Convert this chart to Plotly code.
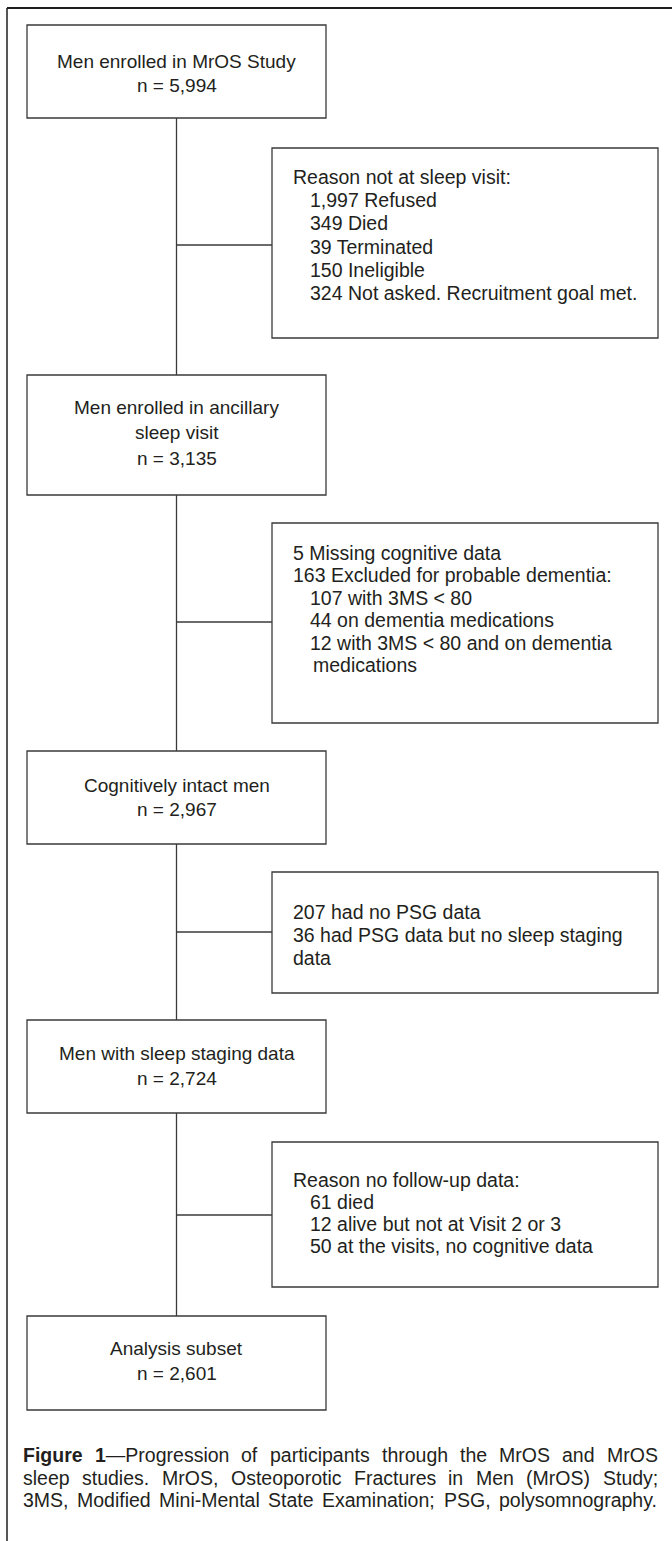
import re
import plotly.graph_objects as go

W, H = 672, 1541
FONT = "Liberation Sans, Arial, Helvetica, sans-serif"
INK = "#231f20"
LINE = "#3a3a3a"

# ---------------- content ----------------
main_texts = [
    ["Men enrolled in MrOS Study", "n = 5,994"],
    ["Men enrolled in ancillary", "sleep visit", "n = 3,135"],
    ["Cognitively intact men", "n = 2,967"],
    ["Men with sleep staging data", "n = 2,724"],
    ["Analysis subset", "n = 2,601"],
]
side_texts = [
    ["Reason not at sleep visit:", "1,997 Refused", "349 Died", "39 Terminated",
     "150 Ineligible", "324 Not asked. Recruitment goal met."],
    ["5 Missing cognitive data", "163 Excluded for probable dementia:", "107 with 3MS < 80",
     "44 on dementia medications", "12 with 3MS < 80 and on dementia", "medications"],
    ["207 had no PSG data", "36 had PSG data but no sleep staging", "data"],
    ["Reason no follow-up data:", "61 died", "12 alive but not at Visit 2 or 3",
     "50 at the visits, no cognitive data"],
]
side_indent = [
    [0, 1, 1, 1, 1, 1],
    [0, 0, 1, 1, 1, 2],
    [0, 0, 0],
    [0, 1, 1, 1],
]
caption_lines = [
    "<b>Figure</b> <b>1</b>—Progression of participants through the MrOS and MrOS",
    "sleep studies. MrOS, Osteoporotic Fractures in Men (MrOS) Study;",
    "3MS, Modified Mini-Mental State Examination; PSG, polysomnography.",
]

# ---------------- layout geometry ----------------
main_x = (27, 326)
main_y = [(25, 118), (375, 495), (751, 844), (1020, 1113), (1316, 1410)]
main_line_y = [[61, 85], [407, 432, 458], [785, 809], [1053, 1078], [1348, 1373]]
side_x = (272, 658)
side_y = [(148, 338), (523, 723), (872, 993), (1142, 1287)]
side_first = [177, 553, 912, 1180]
side_step = [23.2, 22.4, 23.0, 22.0]
side_conn = [245, 622, 932, 1215]
indent_px = [292, 309, 312]
spine_x = 176.5
FS_MAIN = 19
FS_SIDE = 19.5
CAP_FS = 19.5
cap_left, cap_right = 22, 657
cap_y = [1455, 1478, 1500]

# Arial / Liberation Sans advance widths (1/1000 em)
REG = {' ': 278, ',': 278, '-': 333, '.': 278, ':': 278, ';': 278, '(': 333, ')': 333,
       '<': 584, '=': 584, '—': 1000,
       'A': 667, 'B': 667, 'C': 722, 'D': 722, 'E': 667, 'F': 611, 'G': 778, 'H': 722,
       'I': 278, 'J': 500, 'K': 667, 'L': 556, 'M': 833, 'N': 722, 'O': 778, 'P': 667,
       'Q': 778, 'R': 722, 'S': 667, 'T': 611, 'U': 722, 'V': 667, 'W': 944, 'X': 667,
       'Y': 667, 'Z': 611,
       'a': 556, 'b': 556, 'c': 500, 'd': 556, 'e': 556, 'f': 278, 'g': 556, 'h': 556,
       'i': 222, 'j': 222, 'k': 500, 'l': 222, 'm': 833, 'n': 556, 'o': 556, 'p': 556,
       'q': 556, 'r': 333, 's': 500, 't': 278, 'u': 556, 'v': 500, 'w': 722, 'x': 500,
       'y': 500, 'z': 500}
BOLD = {'F': 611, 'i': 278, 'g': 611, 'u': 611, 'r': 389, 'e': 556, '1': 556, ' ': 278}


def word_width(tok, size):
    total = 0
    for part in re.split(r"(<b>.*?</b>)", tok):
        if part.startswith("<b>"):
            total += sum(BOLD.get(c, 611) for c in part[3:-4])
        else:
            total += sum(REG.get(c, 556) for c in part)
    return total / 1000 * size


fig = go.Figure()
shapes = []
annotations = []

# outer frame (top + left)
shapes.append(dict(type="line", x0=7, x1=W, y0=8, y1=8, line=dict(color="#1e1e1e", width=2)))
shapes.append(dict(type="line", x0=7, x1=7, y0=8, y1=H, line=dict(color="#1e1e1e", width=1.5)))

# main boxes
for (y0, y1), lines, ly in zip(main_y, main_texts, main_line_y):
    shapes.append(dict(type="rect", x0=main_x[0], x1=main_x[1], y0=y0, y1=y1,
                       line=dict(color=LINE, width=1.3), fillcolor="white"))
    for t, yy in zip(lines, ly):
        annotations.append(dict(x=(main_x[0] + main_x[1]) / 2, y=yy, text=t, showarrow=False,
                                xanchor="center", yanchor="middle",
                                font=dict(family=FONT, size=FS_MAIN, color=INK)))

# spine segments between main boxes
for (a0, a1), (b0, b1) in zip(main_y[:-1], main_y[1:]):
    shapes.append(dict(type="line", x0=spine_x, x1=spine_x, y0=a1, y1=b0,
                       line=dict(color=LINE, width=1.3)))

# side boxes
for i, ((y0, y1), lines) in enumerate(zip(side_y, side_texts)):
    shapes.append(dict(type="rect", x0=side_x[0], x1=side_x[1], y0=y0, y1=y1,
                       line=dict(color=LINE, width=1.3), fillcolor="white"))
    shapes.append(dict(type="line", x0=spine_x, x1=side_x[0], y0=side_conn[i], y1=side_conn[i],
                       line=dict(color=LINE, width=1.3)))
    for j, t in enumerate(lines):
        annotations.append(dict(x=indent_px[side_indent[i][j]], y=side_first[i] + j * side_step[i],
                                text=t.replace("<", "&lt;"), showarrow=False,
                                xanchor="left", yanchor="middle", borderpad=0,
                                font=dict(family=FONT, size=FS_SIDE, color=INK)))

# justified caption
for line, yy in zip(caption_lines, cap_y):
    words = line.split(" ")
    widths = [word_width(w, CAP_FS) for w in words]
    gap = (cap_right - cap_left - sum(widths)) / (len(words) - 1)
    x = cap_left
    for w, ww in zip(words, widths):
        annotations.append(dict(x=x, y=yy, text=w, showarrow=False, xanchor="left",
                                yanchor="middle", borderpad=0,
                                font=dict(family=FONT, size=CAP_FS, color=INK)))
        x += ww + gap

fig.update_layout(
    width=W, height=H, margin=dict(l=0, r=0, t=0, b=0),
    paper_bgcolor="white", plot_bgcolor="white",
    xaxis=dict(range=[0, W], visible=False, fixedrange=True),
    yaxis=dict(range=[H, 0], visible=False, fixedrange=True),
    shapes=shapes, annotations=annotations, showlegend=False,
)

fig.write_html("out.html", config={"displayModeBar": False},
               post_script="document.body.style.margin='0';")
